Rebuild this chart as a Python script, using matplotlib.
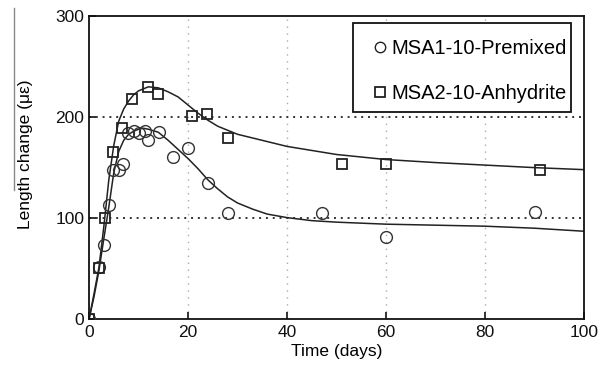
import matplotlib
matplotlib.use("Agg")
import matplotlib.pyplot as plt
from matplotlib.lines import Line2D
from matplotlib.patches import Rectangle

plt.rcParams['font.family'] = ['Liberation Sans', 'DejaVu Sans']

# Measured data
premixed_days = [0, 2, 3, 4, 4.9, 6.1, 6.8, 7.8, 9, 10, 11.3, 12, 14.1, 17, 19.9, 24.1, 28, 47, 60, 90.1]
premixed_vals = [0, 52, 73, 113, 148, 148, 154, 184, 186, 184, 186, 177, 185, 161, 169, 135, 105, 105, 81, 106]

anhydrite_days = [0, 2, 3.2, 4.9, 6.7, 8.7, 12, 13.9, 20.9, 23.8, 28, 51.2, 60, 91.1]
anhydrite_vals = [0, 51, 100, 165, 189, 218, 230, 223, 201, 203, 179, 154, 154, 148]

# Fitted curves
fit_a_days = [0, 1, 2, 3, 4, 5, 6, 7, 8, 9, 10, 12, 14, 16, 18, 20, 22, 24, 26, 28, 30, 35, 40, 45, 50, 60, 70, 80, 90, 100]
fit_a_vals = [0, 25, 51, 92, 138, 172, 196, 208, 216, 222, 226, 230, 229, 225, 220, 212, 204, 197, 191, 187, 183, 177, 171, 167, 163, 158, 155, 152.5, 150, 148]

fit_p_days = [0, 1, 2, 3, 4, 5, 6, 7, 8, 9, 10, 11, 12, 14, 16, 18, 20, 22, 24, 26, 28, 30, 33, 36, 40, 45, 50, 60, 70, 80, 90, 100]
fit_p_vals = [0, 22, 48, 80, 111, 145, 166, 177, 183, 186, 188, 189, 188, 185, 177, 168, 159, 149, 138, 129, 121, 115, 109, 104, 100.5, 97.5, 96, 94, 93, 92, 90, 87]

x_ticks = [0, 20, 40, 60, 80, 100]
y_ticks = [0, 100, 200, 300]
series_labels = ['MSA1-10-Premixed', 'MSA2-10-Anhydrite']

fig = plt.figure(figsize=(6.14, 3.84), dpi=100)
ax = fig.add_axes([0.145, 0.169, 0.806, 0.789])

for xv in [20, 40, 60, 80]:
    ax.axvline(xv, color='#aaaaaa', lw=1.0, ls=(0, (1, 4)), zorder=1)
for yv in [100, 200]:
    ax.axhline(yv, color='#333333', lw=1.4, ls=(0, (1, 2.5)), zorder=1)

ax.plot(fit_a_days, fit_a_vals, color='#222222', lw=1.1, zorder=2)
ax.plot(fit_p_days, fit_p_vals, color='#222222', lw=1.1, zorder=2)

ax.plot(premixed_days, premixed_vals, ls='none', marker='o', ms=8.5, mfc='none',
        mec='#333333', mew=1.0, zorder=3)
ax.plot(anhydrite_days, anhydrite_vals, ls='none', marker='s', ms=7, mfc='none',
        mec='#222222', mew=1.3, zorder=3)

ax.set_xlim(0, 100)
ax.set_ylim(0, 300)
ax.set_xticks(x_ticks)
ax.set_yticks(y_ticks)
ax.tick_params(direction='in', length=5, width=1.2, labelsize=12.5, colors='#111111')
ax.tick_params(axis='x', pad=4)
for s in ax.spines.values():
    s.set_linewidth(1.3)
    s.set_color('#111111')

ax.set_xlabel('Time (days)', fontsize=12.5, labelpad=3)
ax.set_ylabel('Length change (με)', fontsize=12.5)
ax.yaxis.set_label_coords(-0.113, 0.545)

handles = [
    Line2D([], [], ls='none', marker='o', ms=7.5, mfc='none', mec='#222222', mew=1.0),
    Line2D([], [], ls='none', marker='s', ms=6.5, mfc='none', mec='#222222', mew=1.3),
]
leg = ax.legend(handles, series_labels, loc='upper right',
                bbox_to_anchor=(0.966, 0.924), fontsize=14.5, frameon=False,
                handletextpad=0.25, handlelength=0.7,
                labelspacing=1.3, borderpad=0, borderaxespad=0)
ax.add_patch(Rectangle((0.533, 0.683), 0.441, 0.294, transform=ax.transAxes,
                       fill=True, facecolor='white', edgecolor='#111111', lw=1.3, zorder=4))
leg.set_zorder(5)

# faint line artefact beside the y label
fig.add_artist(Line2D([14/614, 14/614], [1 - 8/384, 1 - 190/384], color='#888888', lw=1.0))

fig.savefig('out.png', dpi=100)
